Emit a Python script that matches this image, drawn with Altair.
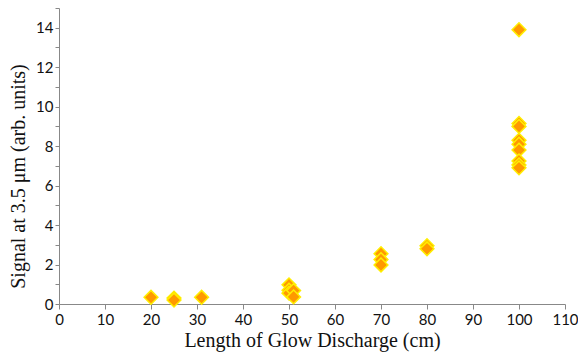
import altair as alt
import pandas as pd

length_cm = [20, 25, 25, 31, 50, 50, 50, 51, 51, 70, 70, 70, 80, 80,
             100, 100, 100, 100, 100, 100, 100, 100, 100]
signal = [0.34, 0.3, 0.2, 0.34, 0.97, 0.7, 0.55, 0.68, 0.36, 2.55, 2.25, 1.98, 2.95, 2.8,
          13.9, 9.15, 9.0, 8.3, 8.1, 7.8, 7.25, 7.05, 6.9]

df = pd.DataFrame({"x": length_cm, "y": signal})

label_font = "Lato"
title_font = "Liberation Serif"

chart = alt.Chart(df).mark_point(
    shape="diamond", filled=True, fill="#FF9900", stroke="#FFEE00",
    strokeWidth=1.5, size=190, opacity=1
).encode(
    x=alt.X("x:Q", scale=alt.Scale(domain=[0, 110], nice=False, zero=False),
            axis=alt.Axis(title="Length of Glow Discharge (cm)", values=list(range(0, 111, 10)),
                          grid=False, domainColor="#888888", tickColor="#888888",
                          tickSize=5, labelFont=label_font, labelFontSize=15,
                          labelColor="#111111", labelPadding=3, labelFlush=False,
                          titleFont=title_font, titleFontSize=20, titleFontWeight="normal",
                          titleColor="#111111", titlePadding=3)),
    y=alt.Y("y:Q", scale=alt.Scale(domain=[0, 15], nice=False),
            axis=alt.Axis(title="Signal at 3.5 μm (arb. units)", values=list(range(0, 16)),
                          labelExpr="datum.value % 2 == 0 ? datum.label : ''",
                          grid=False, domainColor="#888888", tickColor="#888888",
                          tickSize=4, labelFont=label_font, labelFontSize=15,
                          labelColor="#111111", labelPadding=2, labelFlush=False,
                          titleFont=title_font, titleFontSize=20, titleFontWeight="normal",
                          titleColor="#111111", titleX=-31, titleY=168)),
).properties(
    width=506, height=296,
    autosize=alt.AutoSizeParams(type="none"),
    padding={"left": 51, "top": 0, "right": 13, "bottom": 48},
).configure_view(stroke=None)

chart.save("out.html", embed_options={"renderer": "svg", "actions": False})
